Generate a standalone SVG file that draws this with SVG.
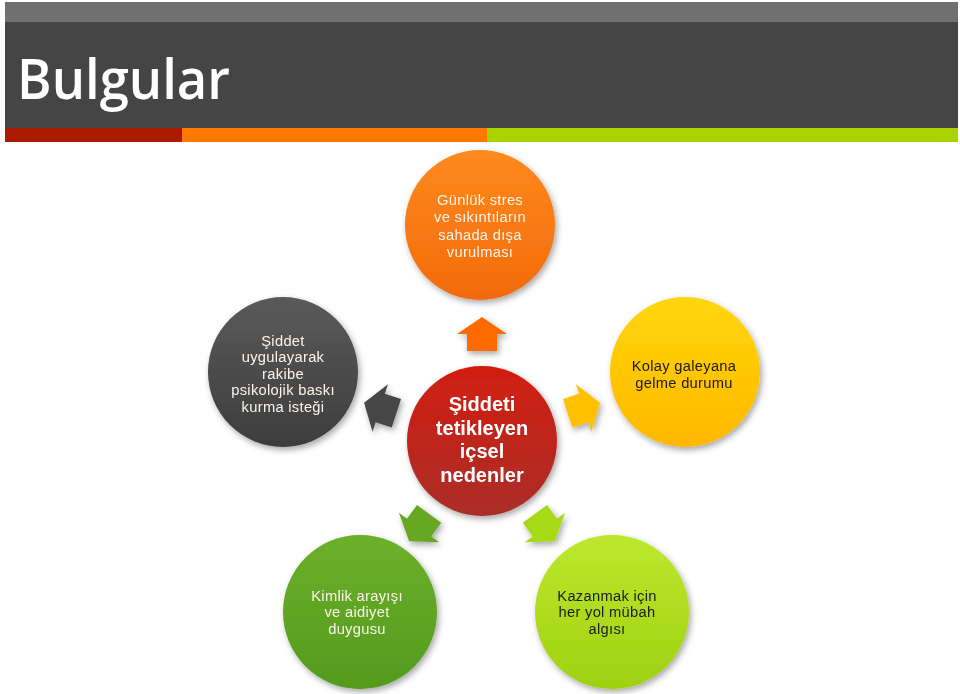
<svg xmlns="http://www.w3.org/2000/svg" width="960" height="694" viewBox="0 0 960 694">
<defs>
<filter id="sh" x="-20%" y="-20%" width="150%" height="150%">
<feDropShadow dx="2" dy="3" stdDeviation="3" flood-color="#000" flood-opacity="0.35"/>
</filter>
<linearGradient id="gOrange" x1="0" y1="0" x2="0" y2="1"><stop offset="0" stop-color="#ff8a1e"/><stop offset="1" stop-color="#f26a0a"/></linearGradient>
<linearGradient id="gGray" x1="0" y1="0" x2="0" y2="1"><stop offset="0" stop-color="#5a5a5a"/><stop offset="1" stop-color="#3d3d3d"/></linearGradient>
<linearGradient id="gYellow" x1="0" y1="0" x2="0" y2="1"><stop offset="0" stop-color="#ffd60a"/><stop offset="1" stop-color="#ffb800"/></linearGradient>
<linearGradient id="gRed" x1="0" y1="0" x2="0" y2="1"><stop offset="0" stop-color="#d21e10"/><stop offset="1" stop-color="#aa2e28"/></linearGradient>
<linearGradient id="gGreen" x1="0" y1="0" x2="0" y2="1"><stop offset="0" stop-color="#6cb02a"/><stop offset="1" stop-color="#549a1e"/></linearGradient>
<linearGradient id="gLime" x1="0" y1="0" x2="0" y2="1"><stop offset="0" stop-color="#bde82e"/><stop offset="1" stop-color="#9fd010"/></linearGradient>
<polygon id="arr" points="482,317 507,334 497,334 497,351 467,351 467,334 457,334"/>
</defs>
<style>
text{font-family:"Liberation Sans",Arial,sans-serif;text-anchor:middle}
.t{font-size:14.7px;letter-spacing:0.3px}
.light{fill:#fbf3ea}
.dark{fill:#1c1c1c}
.ctr{font-size:20px;font-weight:bold;fill:#ffffff}
</style>
<g id="header">
<rect x="5" y="2" width="953" height="20" fill="#707070"/>
<rect x="5" y="22" width="953" height="106" fill="#454545"/>
<rect x="5" y="128" width="177" height="14" fill="#ab1900"/>
<rect x="182" y="128" width="305" height="14" fill="#ff7800"/>
<rect x="487" y="128" width="471" height="14" fill="#aad400"/>
<text x="17" y="99" style="font-family:'Open Sans','Liberation Sans',sans-serif;text-anchor:start;font-size:56px;font-weight:600;fill:#ffffff" textLength="213" lengthAdjust="spacingAndGlyphs">Bulgular</text>
</g>
<g id="connectors" filter="url(#sh)">
<use href="#arr" fill="#ff6a00"/>
<use href="#arr" fill="#ffc000" transform="rotate(72 482 441)"/>
<use href="#arr" fill="#a6da18" transform="rotate(144 482 441)"/>
<use href="#arr" fill="#66a822" transform="rotate(216 482 441)"/>
<use href="#arr" fill="#474747" transform="rotate(288 482 441)"/>
</g>
<g id="top">
<circle cx="480" cy="225" r="75" fill="url(#gOrange)" filter="url(#sh)"/>
<text class="t light" x="480" y="205">Günlük stres</text>
<text class="t light" x="480" y="222">ve sıkıntıların</text>
<text class="t light" x="480" y="239.5">sahada dışa</text>
<text class="t light" x="480" y="257">vurulması</text>
</g>
<g id="left">
<circle cx="283" cy="372" r="75" fill="url(#gGray)" filter="url(#sh)"/>
<text class="t light" x="283" y="345.5">Şiddet</text>
<text class="t light" x="283" y="362">uygulayarak</text>
<text class="t light" x="283" y="378.5">rakibe</text>
<text class="t light" x="283" y="395">psikolojik baskı</text>
<text class="t light" x="283" y="411.5">kurma isteği</text>
</g>
<g id="right">
<circle cx="685" cy="372" r="75" fill="url(#gYellow)" filter="url(#sh)"/>
<text class="t dark" x="684" y="371">Kolay galeyana</text>
<text class="t dark" x="684" y="388">gelme durumu</text>
</g>
<g id="center">
<circle cx="482" cy="441" r="75" fill="url(#gRed)" filter="url(#sh)"/>
<text class="ctr" x="482" y="411">Şiddeti</text>
<text class="ctr" x="482" y="434.5">tetikleyen</text>
<text class="ctr" x="482" y="458">içsel</text>
<text class="ctr" x="482" y="482">nedenler</text>
</g>
<g id="bottomLeft">
<circle cx="360" cy="612" r="77" fill="url(#gGreen)" filter="url(#sh)"/>
<text class="t light" x="357" y="600.5">Kimlik arayışı</text>
<text class="t light" x="357" y="617">ve aidiyet</text>
<text class="t light" x="357" y="633.5">duygusu</text>
</g>
<g id="bottomRight">
<circle cx="612" cy="612" r="77" fill="url(#gLime)" filter="url(#sh)"/>
<text class="t dark" x="607" y="600.5">Kazanmak için</text>
<text class="t dark" x="607" y="617">her yol mübah</text>
<text class="t dark" x="607" y="633.5">algısı</text>
</g>
</svg>
